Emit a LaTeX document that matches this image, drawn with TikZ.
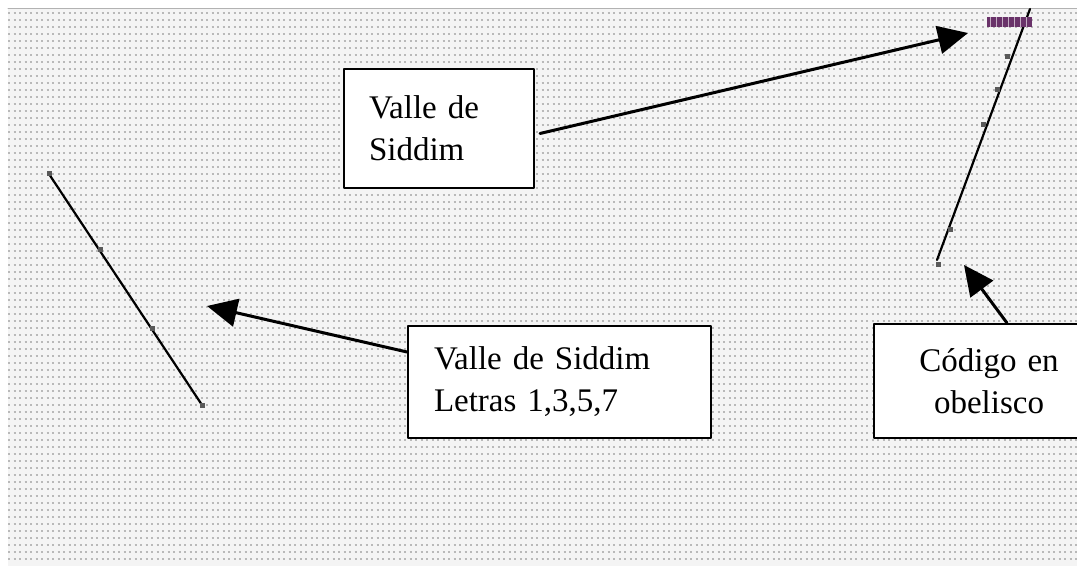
\documentclass[tikz,border=0pt]{standalone}
\usepackage{fontspec}
\setmainfont{Liberation Serif}
\usetikzlibrary{arrows.meta}
\definecolor{barra}{RGB}{105,50,105}
\begin{document}
\begin{tikzpicture}[x=1pt, y=-1pt, line join=round, line cap=round,
		font=\fontsize{33}{42}\selectfont, >={Triangle[length=30pt,width=28pt]},
		caja/.style={draw, line width=2pt, fill=white, anchor=north west, inner ysep=0pt},
		flecha/.style={->, line width=3pt},
		traza/.style={line width=2.2pt},
		marca/.style={fill=gray!70!black}]
				\useasboundingbox (0,0) rectangle (1077,572);
				% fondo punteado
				\fill[gray!9] (8,9) rectangle (1077,566);
				\foreach \r in {0,...,78}\draw[gray!55, line width=2pt, dash pattern=on 2pt off 3.5pt, line cap=butt] (8,13+7*\r)--(1077,13+7*\r);
				\draw[gray!60, line width=1pt] (8,9)--(1077,9);
				\path
				(49,174) coordinate (L1)
				(202,405) coordinate (L2)
				(1030,9) coordinate (R1)
				(937,260) coordinate (R2)
				(968,33) coordinate (P1)
				(207,306) coordinate (P2)
				(964,265) coordinate (P3)
				;
				\draw[traza] (L1)--(L2) (R1)--(R2);
				\fill[barra] (987,17) rectangle (1032,27);
				\foreach \x in {990,996,...,1026}\draw[white!60!barra, line width=1pt, line cap=butt] (\x,17)--(\x,27);
				\foreach \x/\y in {49/174,202/405,100/250,152/328,1007/57,997/90,983/125,950/230,938/265}\fill[marca] (\x-2.5,\y-2.5) rectangle (\x+2.5,\y+2.5);
				\node[caja, minimum width=190pt, minimum height=119pt, text width=140pt, inner xsep=25pt, align=left] (valle) at (343,68) {Valle de\\Siddim};
				\node[caja, minimum width=303pt, minimum height=112pt, text width=251pt, inner xsep=26pt, align=left] (letras) at (407,325) {Valle de Siddim\\Letras 1,3,5,7};
				\node[caja, minimum width=230pt, minimum height=114pt, text width=190pt, inner xsep=20pt, align=center] (codigo) at (873,323) {Código en\\obelisco};
				\draw[flecha] ([xshift=5pt,yshift=-5pt]valle.east)--(P1);
				\draw[flecha] ([yshift=-27pt]letras.north west)--(P2);
				\draw[flecha] ([xshift=18pt]codigo.north)--(P3);
		\end{tikzpicture}
\end{document}
